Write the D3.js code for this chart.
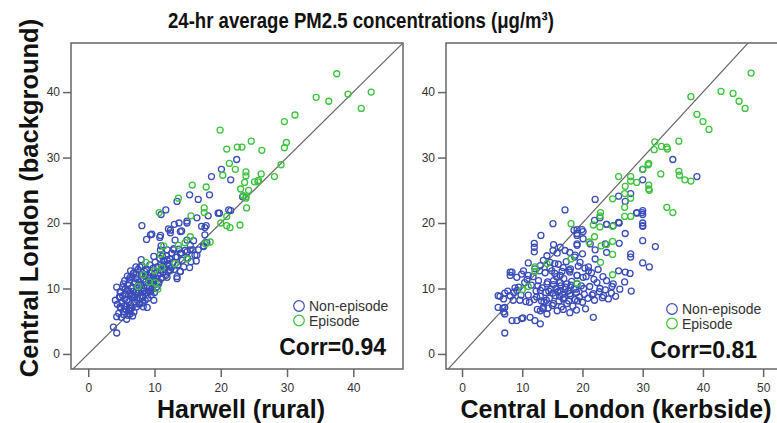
<!DOCTYPE html>
<html>
<head>
<meta charset="utf-8">
<script src="https://cdn.jsdelivr.net/npm/d3@7"></script>
<style>
  body { margin: 0; background: #fff; }
  svg { display: block; font-family: "Liberation Sans", Arial, sans-serif; }
  .tick text { font-size: 12px; fill: #333; }
</style>
</head>
<body>
<div id="chart"></div>
<script>
// tick values
var xTicksLeft = [0, 10, 20, 30, 40];
var xTicksRight = [0, 10, 20, 30, 40, 50];
var yTicks = [0, 10, 20, 30, 40];

// legend labels
var seriesNames = ["Non-episode", "Episode"];

// Harwell (rural) vs Central London (background), non-episode days
var leftNonEpisode = [
  [22.4,29.7],[20.1,28.2],[18.6,27.1],[21.5,26.6],[15.3,24.3],[18.3,24.3],[16.6,23.6],[13.4,23.3],[23.3,24.0],
  [11.7,22.0],[11.0,21.3],[19.8,21.5],[21.5,21.9],[18.1,21.1],[16.4,20.8],[14.9,20.3],[13.7,20.0],[13.0,19.8],
  [12.1,19.1],[8.1,19.6],[17.6,19.3],[9.4,18.2],[10.9,18.1],[12.4,18.9],[14.9,20.0],[13.9,18.7],[17.1,19.5],
  [17.6,18.2],[8.8,17.5],[10.8,17.8],[9.6,18.3],[12.4,18.5],[14.1,18.8],[17.8,19.6],[19.6,21.5],[21.2,22.0],
  [14.9,17.4],[15.9,17.3],[16.6,15.9],[17.4,16.5],[17.9,17.0],[15.4,16.6],[11.0,16.5],[11.9,15.9],[12.9,16.1],
  [14.1,15.4],[14.9,15.6],[16.1,15.1],[13.1,17.4],[17.4,16.4],[16.4,15.1],[15.4,15.9],[13.9,15.4],[12.9,15.9],
  [11.9,14.4],[10.9,15.9],[9.9,14.9],[11.4,13.6],[12.4,12.8],[13.4,11.5],[10.9,12.3],[8.8,12.8],[7.8,13.3],
  [6.8,12.3],[6.3,11.7],[5.3,10.7],[4.3,10.2],[4.8,8.7],[4.1,8.2],[4.8,7.2],[6.3,6.1],[4.3,5.7],[3.8,4.1],
  [4.3,3.2],[6.1,6.7],[7.8,7.7],[8.3,8.7],[9.4,9.5],[7.3,9.5],[5.8,8.2],[4.8,9.5],[5.6,10.0],[7.1,11.0],
  [8.9,7.1],[13.4,14.8],[15.5,14.1],[14.4,13.3],[11.9,11.7],[9.9,11.2],[13.4,11.8],[13.9,12.6],[8.3,7.2],
  [9.9,8.2],[4.6,6.2],[4.9,7.0],[5.1,7.8],[5.3,6.5],[5.5,8.4],[5.6,9.1],[5.8,7.3],[5.9,9.8],[6.0,10.6],
  [6.1,8.0],[6.2,11.3],[6.3,9.2],[6.4,7.5],[6.5,10.1],[6.6,11.8],[6.7,8.6],[6.8,9.6],[6.9,12.4],[7.0,10.8],
  [7.0,7.9],[7.1,9.0],[7.2,11.5],[7.3,8.3],[7.4,10.2],[7.5,12.9],[7.6,9.4],[7.7,11.0],[7.8,8.6],[7.9,10.6],
  [8.0,12.1],[8.0,9.7],[8.1,13.5],[8.2,8.9],[8.3,11.4],[8.4,10.1],[8.5,12.6],[8.6,9.3],[8.7,11.0],[8.8,13.0],
  [8.9,10.4],[9.0,12.0],[9.1,9.6],[9.2,11.6],[9.3,13.6],[9.4,10.8],[9.5,12.4],[9.6,9.9],[9.7,11.2],[9.8,13.1],
  [9.9,10.5],[10.0,12.3],[10.1,14.0],[10.2,11.5],[10.3,10.2],[10.4,13.3],[10.5,12.0],[10.7,11.0],[10.8,14.6],
  [10.9,12.8],[11.0,13.6],[11.1,11.6],[11.3,12.5],[11.4,14.2],[11.5,13.1],[11.7,12.0],[11.8,15.0],[12.0,13.8],
  [12.1,12.6],[12.3,14.5],[12.5,13.2],[12.6,15.4],[12.8,14.0],[13.0,12.9],[13.2,14.8],[13.5,13.6],[13.7,16.0],
  [13.9,12.6],[14.2,14.3],[14.6,15.8],[15.0,14.6],[15.3,13.2],[15.8,15.9],[16.3,14.2],[5.0,5.6],[5.4,6.0],
  [5.7,6.8],[6.0,5.9],[6.3,6.6],[6.6,7.0],[6.9,6.4],[7.3,7.2],[7.7,7.6],[8.2,7.8],[8.6,8.2],[9.0,8.5],
  [9.5,9.0],[10.0,9.4],[4.4,7.6],[4.7,8.7],[5.2,10.2],[5.5,11.2],[6.4,12.7],[7.2,13.3],[8.0,14.4],[4.9,9.4],
  [5.8,5.3],[6.7,5.8],[5.2,8.9],[5.9,11.9],[6.6,9.0],[7.3,12.2],[7.6,10.5],[8.4,9.6],[9.2,10.1],[9.8,11.8],
  [10.6,10.7],[11.2,14.9],[12.2,13.4],[6.2,7.0],[7.0,8.6],[8.6,11.9],[6.1,9.6],[5.4,7.3]
];

// Harwell (rural) vs Central London (background), episode days
var leftEpisode = [
  [37.5,42.8],[34.4,39.2],[36.3,38.6],[39.2,39.7],[42.7,40.0],[41.2,37.5],[31.2,36.5],[29.6,35.5],[19.9,34.2],
  [24.6,32.5],[29.9,32.3],[29.6,31.5],[22.5,31.6],[23.2,31.6],[20.9,31.3],[26.2,31.1],[21.3,29.1],[22.2,28.2],
  [29.1,28.9],[23.8,27.8],[23.8,27.2],[20.3,27.3],[26.1,27.5],[28.1,27.1],[23.6,26.2],[25.1,26.3],[25.7,26.5],
  [25.6,26.3],[15.7,25.8],[17.8,25.5],[23.0,25.2],[24.2,25.0],[23.4,24.2],[23.8,24.0],[23.8,23.8],[13.6,23.8],
  [17.5,22.3],[17.5,21.6],[23.9,22.3],[10.7,21.6],[15.5,21.1],[20.0,20.0],[20.9,19.6],[21.4,19.3],[22.9,19.7],
  [20.9,21.0],[15.4,17.9],[18.4,17.1],[17.7,16.8],[11.4,16.5],[13.6,16.6],[14.6,17.0],[10.9,15.2],[14.9,14.5],
  [8.7,14.0],[11.1,13.2],[13.1,13.8],[10.0,12.7],[8.3,12.1],[9.2,11.0],[10.1,10.9],[7.5,10.3],[10.5,9.9]
];

// Central London (kerbside) vs Central London (background), non-episode days
var rightNonEpisode = [
  [35.0,29.7],[39.0,27.1],[30.0,26.6],[30.0,28.2],[22.1,23.6],[26.0,24.1],[27.1,23.3],[28.0,24.5],[17.1,22.0],
  [29.0,21.6],[30.0,21.9],[30.0,21.3],[15.1,19.9],[22.0,20.4],[22.9,20.8],[24.0,19.8],[26.0,20.1],[30.0,20.0],
  [30.0,19.6],[19.1,19.0],[19.9,19.0],[13.1,18.1],[12.0,16.9],[12.0,16.3],[12.0,15.6],[15.2,16.7],[16.3,16.3],
  [15.1,15.8],[15.8,15.4],[17.1,15.8],[17.9,15.5],[19.1,18.4],[19.1,16.6],[18.8,15.1],[14.1,15.0],[13.5,14.3],
  [14.6,14.0],[13.0,13.5],[11.0,13.9],[12.1,13.0],[10.2,12.7],[8.3,12.5],[9.1,11.7],[11.0,12.0],[15.4,13.8],
  [16.8,13.2],[17.9,12.5],[19.1,12.0],[16.3,12.0],[14.9,12.7],[8.0,12.5],[8.0,12.0],[9.9,12.2],[6.0,8.9],
  [7.1,9.3],[8.0,8.9],[6.9,8.4],[9.1,9.7],[8.5,8.2],[6.0,7.1],[7.1,7.1],[6.9,6.4],[9.6,8.2],[11.2,7.9],
  [12.4,8.7],[13.0,9.7],[14.1,10.7],[15.2,11.2],[16.3,9.7],[13.5,7.1],[15.2,7.7],[16.8,8.4],[17.9,9.2],
  [19.1,10.7],[17.4,10.7],[13.0,6.6],[14.1,6.1],[11.3,5.6],[9.9,5.4],[8.3,5.1],[9.1,5.1],[12.1,5.1],[13.0,4.6],
  [7.1,3.2],[21.8,5.6],[24.0,19.8],[25.1,19.6],[26.1,20.0],[27.1,18.4],[29.0,21.5],[29.9,21.6],[30.0,19.5],
  [30.0,17.3],[32.1,16.4],[28.0,15.3],[28.0,14.8],[30.0,13.9],[31.1,13.3],[26.1,16.9],[23.8,16.8],[24.0,15.5],
  [22.1,15.9],[21.3,16.8],[20.1,17.6],[19.1,18.1],[19.1,16.8],[20.0,15.3],[22.1,14.5],[21.0,13.3],[21.0,12.7],
  [20.1,11.7],[19.1,12.0],[26.0,12.7],[27.1,12.5],[27.9,12.3],[24.0,11.2],[25.1,10.7],[27.0,11.0],[28.1,9.6],
  [22.9,10.0],[21.8,9.2],[23.5,8.9],[24.9,10.3],[18.6,18.9],[20.1,18.7],[6.8,7.0],[7.1,6.1],
  [11.0,9.0],[11.5,10.5],[12.0,8.3],[12.3,9.6],[12.7,11.2],[13.0,8.8],[13.3,10.1],[13.6,7.9],[13.9,9.4],
  [14.2,11.0],[14.5,8.5],[14.8,9.9],[15.0,7.4],[15.2,10.6],[15.5,8.9],[15.7,11.8],[15.9,9.5],[16.1,8.1],
  [16.3,10.9],[16.5,7.2],[16.7,9.1],[16.9,11.5],[17.0,8.6],[17.2,10.2],[17.4,7.7],[17.6,9.6],[17.8,12.8],
  [18.0,8.9],[18.2,11.1],[18.4,7.3],[18.6,10.0],[18.8,8.3],[19.0,9.4],[19.3,13.4],[19.5,8.7],[19.8,10.4],
  [20.0,7.9],[20.3,9.1],[20.6,11.8],[20.9,8.5],[21.2,10.3],[21.6,9.0],[22.0,8.2],[22.4,10.9],[22.8,9.5],
  [23.3,8.6],[23.8,9.8],[24.3,8.4],[24.8,9.3],[25.5,8.8],[26.2,9.9],[13.8,12.4],[14.6,13.1],[15.4,12.3],
  [16.0,13.7],[16.6,12.6],[17.3,14.1],[18.0,13.0],[18.7,14.8],[19.6,14.0],[20.4,13.1],[21.5,12.4],[22.6,12.9],
  [23.4,11.8],[12.5,6.8],[13.4,6.9],[14.3,7.0],[15.8,6.6],[16.8,6.8],[17.9,6.3],[19.0,6.7],[20.5,6.9],
  [10.6,8.0],[9.8,9.0],[10.4,10.9],[11.8,11.8],[12.9,12.7],[10.8,11.4],[9.4,10.2],[8.6,9.4],[6.3,8.8],
  [7.6,9.6],[8.8,10.1],[10.1,5.5],[14.0,8.2],[15.1,9.3],[16.2,8.8],[17.1,9.9],[18.1,10.5],[19.2,8.1],
  [20.2,10.0],[16.4,10.4],[17.7,8.1],[15.6,10.0],[14.4,9.6],[13.2,8.1],[18.9,9.9],[21.9,11.4],[12.6,10.4]
];

// Central London (kerbside) vs Central London (background), episode days
var rightEpisode = [
  [48.0,42.9],[43.0,40.1],[45.0,39.8],[46.0,38.6],[47.0,37.5],[38.0,39.3],[39.0,36.6],[40.0,35.5],[41.0,34.3],
  [32.0,32.4],[31.9,31.2],[33.1,31.7],[34.0,31.6],[34.1,31.3],[36.0,32.5],[31.0,29.1],[30.9,28.9],[30.0,28.2],
  [26.0,27.1],[28.0,27.1],[28.0,26.4],[27.1,25.6],[29.0,26.2],[33.0,27.5],[36.0,27.9],[36.1,27.3],[37.0,26.6],
  [38.0,26.4],[31.0,25.8],[31.0,25.2],[31.1,25.0],[27.0,24.5],[28.0,23.8],[25.0,23.7],[27.0,22.4],[34.0,22.4],
  [35.0,21.6],[27.0,21.0],[28.0,21.0],[23.0,21.6],[22.9,21.1],[18.1,19.9],[21.8,19.7],[22.9,19.4],[25.0,19.5],
  [21.1,17.1],[22.0,17.9],[23.1,16.5],[24.0,16.7],[25.0,17.2],[25.0,15.2],[23.0,14.0],[25.0,12.1],[18.1,14.5],
  [19.1,10.8],[12.1,13.3],[12.1,12.6],[14.1,13.8],[11.0,10.3],[10.0,9.8]
];

var blue = "#3a4cb8",
    green = "#3cc23c";

var svg = d3.select("#chart").append("svg")
    .attr("width", 777)
    .attr("height", 423);

// title
svg.append("text")
    .attr("x", 361)
    .attr("y", 28)
    .attr("text-anchor", "middle")
    .attr("textLength", 386)
    .attr("lengthAdjust", "spacingAndGlyphs")
    .style("font-size", "22px")
    .style("font-weight", "bold")
    .style("fill", "#111")
    .text("24-hr average PM2.5 concentrations (μg/m³)");

// y axis title, shared
svg.append("text")
    .attr("transform", "translate(38,198) rotate(-90)")
    .attr("text-anchor", "middle")
    .style("font-size", "25.5px")
    .style("font-weight", "bold")
    .style("fill", "#111")
    .text("Central London (background)");

function drawPanel(p) {
  var x = d3.scaleLinear().domain(p.xDomain).range([p.left, p.right]);
  var y = d3.scaleLinear().domain([-2.3, 47.5]).range([369, 43]);

  var g = svg.append("g");

  svg.append("clipPath")
      .attr("id", p.id)
    .append("rect")
      .attr("x", p.left)
      .attr("y", 43)
      .attr("width", p.right - p.left)
      .attr("height", 369 - 43);

  // y = x reference line
  g.append("line")
      .attr("clip-path", "url(#" + p.id + ")")
      .attr("x1", x(-5)).attr("y1", y(-5))
      .attr("x2", x(60)).attr("y2", y(60))
      .attr("stroke", "#666")
      .attr("stroke-width", 1.2);

  // points: non-episode under episode
  g.selectAll("circle.ne")
      .data(p.nonEpisode)
    .enter().append("circle")
      .attr("class", "ne")
      .attr("clip-path", "url(#" + p.id + ")")
      .attr("cx", function(d) { return x(d[0]); })
      .attr("cy", function(d) { return y(d[1]); })
      .attr("r", 3)
      .attr("fill", "none")
      .attr("stroke", blue)
      .attr("stroke-width", 1.3);

  g.selectAll("circle.ep")
      .data(p.episode)
    .enter().append("circle")
      .attr("class", "ep")
      .attr("clip-path", "url(#" + p.id + ")")
      .attr("cx", function(d) { return x(d[0]); })
      .attr("cy", function(d) { return y(d[1]); })
      .attr("r", 3)
      .attr("fill", "none")
      .attr("stroke", green)
      .attr("stroke-width", 1.3);

  // frame
  g.append("rect")
      .attr("x", p.left)
      .attr("y", 43)
      .attr("width", p.right - p.left)
      .attr("height", 369 - 43)
      .attr("fill", "none")
      .attr("stroke", "#666")
      .attr("stroke-width", 1.5);

  // axes
  var xAxis = g.append("g")
      .attr("transform", "translate(0,369)")
      .call(d3.axisBottom(x).tickValues(p.xTicks).tickSize(8).tickPadding(6));
  var yAxis = g.append("g")
      .attr("transform", "translate(" + p.left + ",0)")
      .call(d3.axisLeft(y).tickValues(yTicks).tickSize(8).tickPadding(3));
  [xAxis, yAxis].forEach(function(a) {
    a.select(".domain").remove();
    a.selectAll(".tick line").attr("stroke", "#666").attr("stroke-width", 1.5);
  });

  // x axis title
  g.append("text")
      .attr("x", p.titleX)
      .attr("y", 418)
      .attr("text-anchor", "middle")
      .style("font-size", "25px")
      .style("font-weight", "bold")
      .style("fill", "#111")
      .text(p.xTitle);

  // legend
  var leg = g.selectAll("g.leg")
      .data(seriesNames)
    .enter().append("g")
      .attr("transform", function(d, i) {
        return "translate(" + p.legX + "," + (p.legY + i * 14.5) + ")";
      });
  leg.append("circle")
      .attr("r", 5.3)
      .attr("fill", "none")
      .attr("stroke", function(d, i) { return i === 0 ? blue : green; })
      .attr("stroke-width", 1.2);
  leg.append("text")
      .attr("x", 10)
      .attr("dy", "0.36em")
      .style("font-size", "14px")
      .style("fill", "#333")
      .text(function(d) { return d; });

  // correlation
  g.append("text")
      .attr("x", p.corrX)
      .attr("y", p.corrY)
      .attr("text-anchor", "end")
      .style("font-size", "23px")
      .style("font-weight", "bold")
      .style("fill", "#111")
      .text(p.corr);
}

drawPanel({
  id: "clipL", left: 71, right: 403, xDomain: [-2.6, 47.5], xTicks: xTicksLeft,
  nonEpisode: leftNonEpisode, episode: leftEpisode,
  xTitle: "Harwell (rural)", titleX: 241,
  legX: 299, legY: 306, corr: "Corr=0.94", corrX: 386, corrY: 355
});

drawPanel({
  id: "clipR", left: 446, right: 779, xDomain: [-2.66, 52.63], xTicks: xTicksRight,
  nonEpisode: rightNonEpisode, episode: rightEpisode,
  xTitle: "Central London (kerbside)", titleX: 616,
  legX: 672, legY: 309, corr: "Corr=0.81", corrX: 757, corrY: 358
});
</script>
</body>
</html>
